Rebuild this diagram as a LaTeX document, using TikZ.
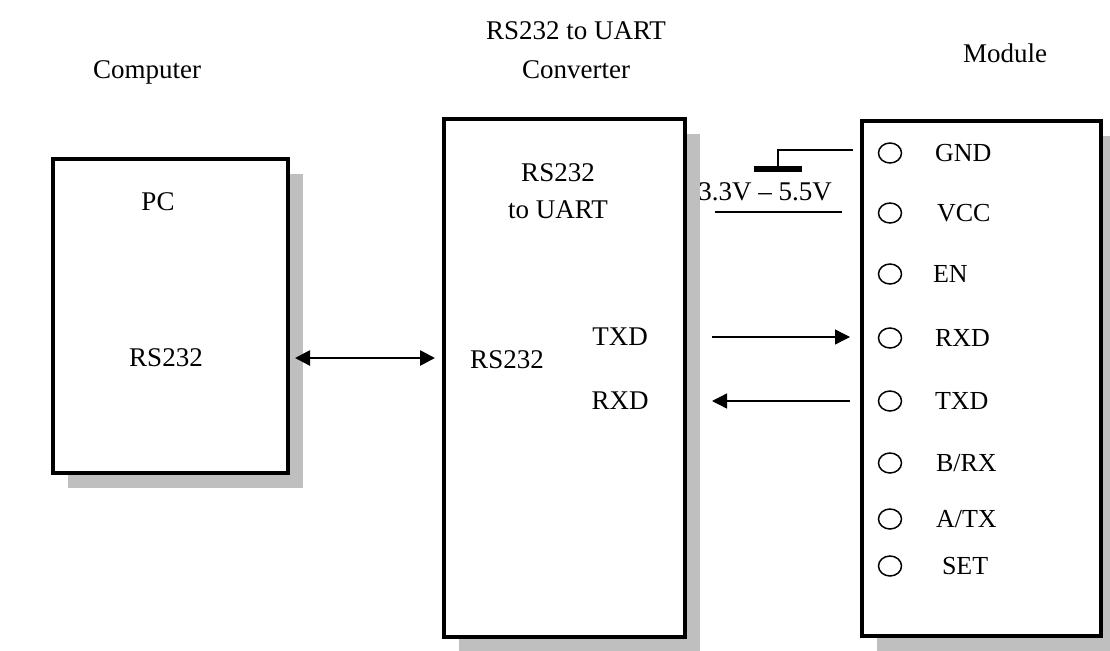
\documentclass[tikz,border=0pt]{standalone}
\usepackage{fontspec}
\setmainfont{Liberation Serif}
\usetikzlibrary{shadows,shapes.geometric,arrows.meta}

\begin{document}
\begin{tikzpicture}[x=1pt, y=-1pt, >={Triangle[length=15pt,width=15pt]},
	every node/.style={inner sep=0pt, outer sep=0pt, font=\fontsize{27}{32}\selectfont},
	block/.style={draw, line width=3.5pt, fill=white, rectangle,
		drop shadow={shadow xshift=15pt, shadow yshift=-15pt, fill=black!25, opacity=1}},
	pin/.style={draw, ellipse, line width=1.5pt, minimum width=23pt, minimum height=20pt},
	pinlabel/.style={anchor=west, font=\fontsize{26}{30}\selectfont}]

	\useasboundingbox (0,0) rectangle (1110,650);

	% titles
	\node (comptitle) at (147,72) {Computer};
	\node (convtitle) at (576,31) {RS232 to UART};
	\node (convtitle2) at (576,70) {Converter};
	\node (modtitle) at (1005,53) {Module};

	% supply range (partly hidden by the converter shadow)
	\node (vrange) at (765,192) {3.3V – 5.5V};

	% blocks
	\node[block, minimum width=235pt, minimum height=314pt] (pc) at (170.5,316) {};
	\node[block, minimum width=241pt, minimum height=518pt] (conv) at (564.5,378) {};
	\node[block, minimum width=239pt, minimum height=515pt] (mod) at (981.5,378.5) {};

	% block texts
	\node (pcname) at (158,202) {PC};
	\node (pcport) at (166,358) {RS232};
	\node (convname) at (558,173) {RS232};
	\node (convname2) at (558,210) {to UART};
	\node (convport) at (507,360) {RS232};
	\node (convtxd) at (620,337) {TXD};
	\node (convrxd) at (620,401) {RXD};

	% module pins
	\foreach \nm/\lbl/\y/\lx in {gnd/GND/153/935, vcc/VCC/213/937, en/EN/274/933,
		rxd/RXD/338/935, txd/TXD/401/935, brx/{B/RX}/463/936,
		atx/{A/TX}/519/936, set/SET/566/942} {
		\node[pin] (pin-\nm) at (890,\y) {};
		\node[pinlabel] (lbl-\nm) at (\lx,\y) {\lbl};
	}

	% links
	\draw[<->, line width=2.7pt, shorten <=7pt, shorten >=9pt]
	(pc.east |- pcport) -- (conv.west |- pcport);
	\draw[->, line width=1.3pt, shorten <=27pt, shorten >=12pt]
	(conv.east |- convtxd) -- (mod.west |- convtxd);
	\draw[->, line width=1.3pt, shorten <=12pt, shorten >=27pt]
	(mod.west |- convrxd) -- (conv.east |- convrxd);

	% ground symbol
	\coordinate (gndwire) at (853,150);
	\node[fill=black, minimum width=48pt, minimum height=6pt] (gndbar) at (778,169) {};
	\draw[line width=2pt] (gndwire) -| (gndbar.north);

	% supply line
	\draw[line width=2.5pt] (715,212) -- (842,212);

\end{tikzpicture}
\end{document}
